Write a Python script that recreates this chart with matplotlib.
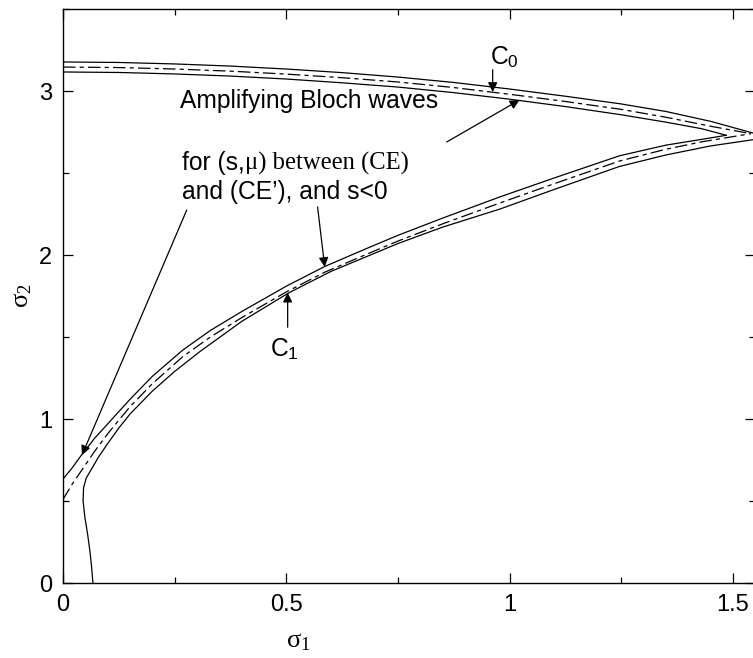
import matplotlib
matplotlib.use("Agg")
import matplotlib.pyplot as plt
from matplotlib.ticker import MultipleLocator

# ---- data ----
c0_outer_x = [0.0, 0.125, 0.25, 0.375, 0.5, 0.625, 0.75, 0.875, 1.0, 1.125, 1.25, 1.35, 1.45, 1.55]
c0_outer_y = [3.177, 3.174, 3.165, 3.152, 3.134, 3.112, 3.085, 3.052, 3.012, 2.968, 2.921, 2.875, 2.815, 2.74]
c0_mid_x = [0.0, 0.125, 0.25, 0.375, 0.5, 0.625, 0.75, 0.875, 1.0, 1.125, 1.25, 1.35, 1.45, 1.54]
c0_mid_y = [3.146, 3.143, 3.134, 3.121, 3.103, 3.081, 3.055, 3.021, 2.98, 2.936, 2.888, 2.84, 2.785, 2.74]
c0_inner_x = [0.0, 0.125, 0.25, 0.375, 0.5, 0.625, 0.75, 0.875, 1.0, 1.125, 1.25, 1.35, 1.43, 1.485]
c0_inner_y = [3.116, 3.113, 3.104, 3.091, 3.073, 3.05, 3.024, 2.99, 2.95, 2.905, 2.855, 2.81, 2.77, 2.73]

c1_top_x = [0.0, 0.02, 0.04, 0.07, 0.1, 0.15, 0.2, 0.268, 0.33, 0.4, 0.5, 0.586, 0.68, 0.75, 0.85,
            0.978, 1.1, 1.246, 1.35, 1.43, 1.485]
c1_top_y = [0.634, 0.70, 0.775, 0.88, 0.97, 1.12, 1.26, 1.42, 1.54, 1.655, 1.81, 1.93, 2.04, 2.12, 2.225,
            2.354, 2.47, 2.605, 2.67, 2.705, 2.73]
c1_mid_x = [0.0, 0.02, 0.04, 0.07, 0.1, 0.15, 0.2, 0.268, 0.33, 0.4, 0.5, 0.586, 0.68, 0.75, 0.85,
            0.978, 1.1, 1.246, 1.35, 1.43, 1.54]
c1_mid_y = [0.51, 0.60, 0.68, 0.80, 0.91, 1.075, 1.215, 1.38, 1.50, 1.618, 1.775, 1.895, 2.005, 2.085, 2.19,
            2.317, 2.435, 2.573, 2.645, 2.69, 2.74]
c1_bot_x = [0.067, 0.064, 0.06, 0.055, 0.049, 0.045, 0.046, 0.052, 0.065, 0.08, 0.1, 0.125, 0.15, 0.2,
            0.25, 0.306, 0.4, 0.506, 0.6, 0.75, 0.85, 0.978, 1.1, 1.246, 1.35, 1.45, 1.55]
c1_bot_y = [0.0, 0.1, 0.2, 0.3, 0.4, 0.5, 0.58, 0.64, 0.70, 0.77, 0.85, 0.945, 1.03, 1.17,
            1.29, 1.41, 1.595, 1.77, 1.90, 2.07, 2.17, 2.28, 2.40, 2.54, 2.61, 2.665, 2.705]

x_ticks = [0, 0.5, 1, 1.5]
x_ticklabels = ["0", "0.5", "1", "1.5"]
y_ticks = [0, 1, 2, 3]
y_ticklabels = ["0", "1", "2", "3"]

plt.rcParams['lines.scale_dashes'] = False
plt.rcParams['mathtext.fontset'] = 'custom'
plt.rcParams['mathtext.rm'] = 'Liberation Serif'
plt.rcParams['mathtext.it'] = 'Liberation Serif:italic'

SANS = 'Liberation Sans'
SERIF = 'Liberation Serif'
FS = 17.7

fig = plt.figure(figsize=(7.53, 6.58), dpi=100)
ax = fig.add_axes([63/753, 75/658, 692.3/753, 574/658])
ax.set_xlim(0, 1.55)
ax.set_ylim(0, 3.5)

lw = 0.9
dd = (0, (9, 3, 3, 3))
ax.plot(c0_outer_x, c0_outer_y, color='black', lw=lw)
ax.plot(c0_mid_x, c0_mid_y, color='black', lw=lw, linestyle=dd)
ax.plot(c0_inner_x, c0_inner_y, color='black', lw=lw)
ax.plot(c1_top_x, c1_top_y, color='black', lw=lw)
ax.plot(c1_mid_x, c1_mid_y, color='black', lw=lw, linestyle=dd)
ax.plot(c1_bot_x, c1_bot_y, color='black', lw=lw)

# ticks
ax.set_xticks(x_ticks)
ax.set_xticklabels(x_ticklabels, fontfamily=SANS, fontsize=17)
ax.set_yticks(y_ticks)
ax.set_yticklabels(y_ticklabels, fontfamily=SANS, fontsize=17)
ax.xaxis.set_minor_locator(MultipleLocator(0.25))
ax.yaxis.set_minor_locator(MultipleLocator(0.5))
ax.tick_params(which='both', direction='in', top=True, right=True, width=0.9)
ax.tick_params(which='major', length=7, pad=8)
ax.tick_params(which='minor', length=4)
for s in ax.spines.values():
    s.set_linewidth(1.0)

ax.set_xlabel(r"$\mathrm{\sigma_1}$", fontsize=19)
ax.xaxis.set_label_coords((298 - 63) / 692.3, -0.077)
ax.set_ylabel(r"$\mathrm{\sigma_2}$", fontsize=19, labelpad=3)

arrowkw = dict(arrowstyle='-|>', color='black', lw=0.9, mutation_scale=14, shrinkA=0, shrinkB=0)

# C0 label
ax.text(0.955, 3.13, r"C$_\mathregular{0}$", fontfamily=SANS, fontsize=FS, ha='left', va='bottom')
ax.annotate("", xy=(0.962, 2.994), xytext=(0.962, 3.13), arrowprops=arrowkw)

# C1 label
ax.text(0.463, 1.35, r"C$_\mathregular{1}$", fontfamily=SANS, fontsize=FS, ha='left', va='bottom')
ax.annotate("", xy=(0.503, 1.77), xytext=(0.503, 1.56), arrowprops=arrowkw)

# texts
ax.text(0.262, 2.94, "Amplifying Bloch waves", fontfamily=SANS, fontsize=FS, ha='left', va='center')
t1 = ax.text(0.266, 2.56, "for (s,", fontfamily=SANS, fontsize=FS, ha='left', va='center')
ax.annotate("\u03bc) between (CE)", xy=(1, 0), xycoords=t1, fontfamily=SERIF, fontsize=FS,
            ha='left', va='bottom')
ax.text(0.266, 2.384, "and (CE\u2019), and s<0", fontfamily=SANS, fontsize=FS, ha='left', va='center')

# arrows from texts
ax.annotate("", xy=(1.022, 2.945), xytext=(0.859, 2.689), arrowprops=arrowkw)
ax.annotate("", xy=(0.586, 1.927), xytext=(0.570, 2.293), arrowprops=arrowkw)
ax.annotate("", xy=(0.0425, 0.78), xytext=(0.277, 2.274), arrowprops=arrowkw)

fig.savefig("out.png", dpi=100)
